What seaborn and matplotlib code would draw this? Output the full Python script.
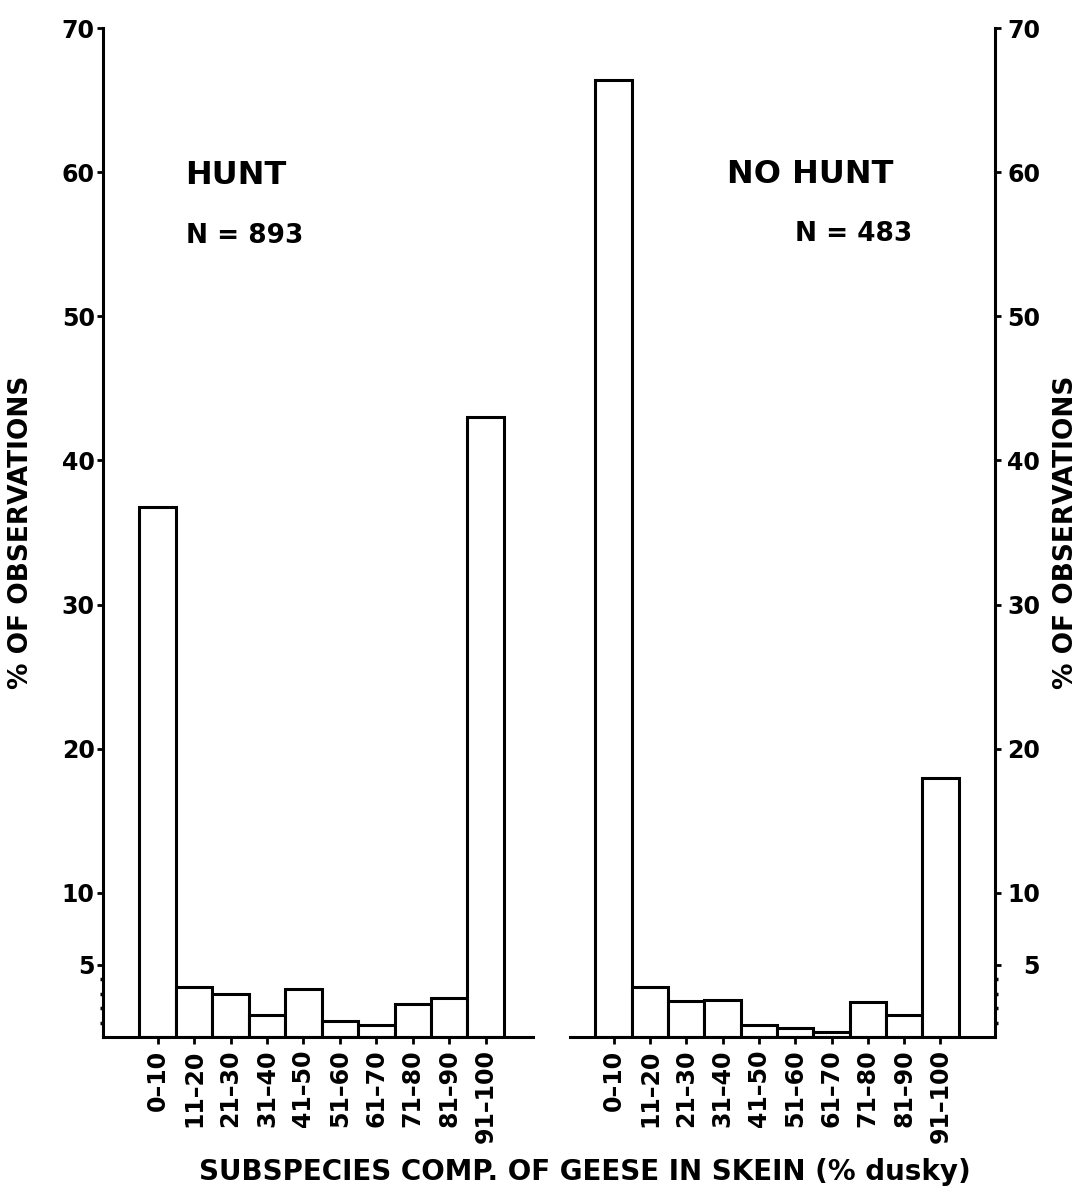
"""
Skein composition of geese, hunted vs. non-hunted areas.
Two side-by-side histograms drawn as seaborn bar plots.
"""

import matplotlib
matplotlib.use("Agg")
import matplotlib.pyplot as plt
import pandas as pd
import seaborn as sns

# ─── Data ────────────────────────────────────────────────────────────────────
CLASSES = ["0–10", "11–20", "21–30", "31–40", "41–50",
           "51–60", "61–70", "71–80", "81–90", "91–100"]
HUNT = [36.8, 3.5, 3.0, 1.5, 3.3, 1.1, 0.8, 2.3, 2.7, 43.0]
NO_HUNT = [66.4, 3.5, 2.5, 2.6, 0.8, 0.6, 0.35, 2.4, 1.5, 18.0]
Y_MAJOR = [5, 10, 20, 30, 40, 50, 60, 70]
Y_MINOR = [1, 2, 3, 4]

PANELS = [("HUNT", "N = 893"), ("NO HUNT", "N = 483")]
YLABEL = "% OF OBSERVATIONS"
XLABEL = "SUBSPECIES COMP. OF GEESE IN SKEIN (% dusky)"

sns.set_style("ticks")
plt.rcParams["font.family"] = ["DejaVu Sans"]
plt.rcParams.update({
    "font.weight": "bold",
    "text.color": "black",
    "axes.labelcolor": "black",
    "xtick.color": "black",
    "ytick.color": "black",
    "axes.edgecolor": "black",
})

LW = 2.2

df = pd.DataFrame({
    "cls": CLASSES * 2,
    "pct": HUNT + NO_HUNT,
    "site": [PANELS[0][0]] * len(CLASSES) + [PANELS[1][0]] * len(CLASSES),
})

fig = plt.figure(figsize=(10.88, 11.98), dpi=100)
ax_l = fig.add_axes([0.0947, 0.1344, 0.3952, 0.8422])
ax_r = fig.add_axes([0.5239, 0.1344, 0.3906, 0.8422])


def draw_panel(ax, site):
    sns.barplot(data=df[df["site"] == site], x="cls", y="pct", order=CLASSES,
                color="white", edgecolor="black", linewidth=LW, width=1.0,
                saturation=1, errorbar=None, ax=ax)
    ax.set_ylim(0, 70)
    ax.set_yticks(Y_MAJOR)
    ax.set_yticks(Y_MINOR, minor=True)
    ax.set_yticklabels([str(v) for v in Y_MAJOR], fontsize=17, fontweight="bold")
    ax.set_xticks(range(len(CLASSES)))
    ax.set_xticklabels(CLASSES, rotation=90, fontsize=17, fontweight="bold")
    ax.tick_params(axis="x", length=5, width=2, pad=4, colors="black")
    ax.tick_params(axis="y", which="major", length=4.5, width=2, colors="black")
    ax.tick_params(axis="y", which="minor", length=2, width=2.5, colors="black")
    ax.set_xlabel("")
    ax.set_ylabel(YLABEL, fontsize=19, fontweight="bold", color="black")
    for sp in ax.spines.values():
        sp.set_linewidth(LW)
        sp.set_color("black")


# ─── Left panel: hunted ──────────────────────────────────────────────────────
draw_panel(ax_l, PANELS[0][0])
ax_l.set_xlim(-1.5, 10.3)
ax_l.spines["top"].set_visible(False)
ax_l.spines["right"].set_visible(False)
ax_l.tick_params(axis="y", which="major", pad=1.5)
ax_l.yaxis.set_label_coords(-0.160, 0.5)
ax_l.text(0.19, 0.845, PANELS[0][0], transform=ax_l.transAxes,
          fontsize=23, fontweight="bold", va="baseline", color="black")
ax_l.text(0.193, 0.787, PANELS[0][1], transform=ax_l.transAxes,
          fontsize=19, fontweight="bold", va="baseline", color="black")

# ─── Right panel: no hunt ────────────────────────────────────────────────────
draw_panel(ax_r, PANELS[1][0])
ax_r.set_xlim(-1.2, 10.5)
ax_r.spines["top"].set_visible(False)
ax_r.spines["left"].set_visible(False)
ax_r.yaxis.tick_right()
ax_r.yaxis.set_label_position("right")
ax_r.tick_params(axis="y", which="major", pad=28)
for lbl in ax_r.get_yticklabels():
    lbl.set_horizontalalignment("right")
ax_r.yaxis.set_label_coords(1.136, 0.5)
ax_r.text(0.369, 0.846, PANELS[1][0], transform=ax_r.transAxes,
          fontsize=23, fontweight="bold", va="baseline", color="black")
ax_r.text(0.529, 0.789, PANELS[1][1], transform=ax_r.transAxes,
          fontsize=19, fontweight="bold", va="baseline", color="black")

fig.text(0.5377, 0.0217, XLABEL, ha="center", va="center",
         fontsize=20, fontweight="bold", color="black")

fig.savefig("out.png", dpi=100)
